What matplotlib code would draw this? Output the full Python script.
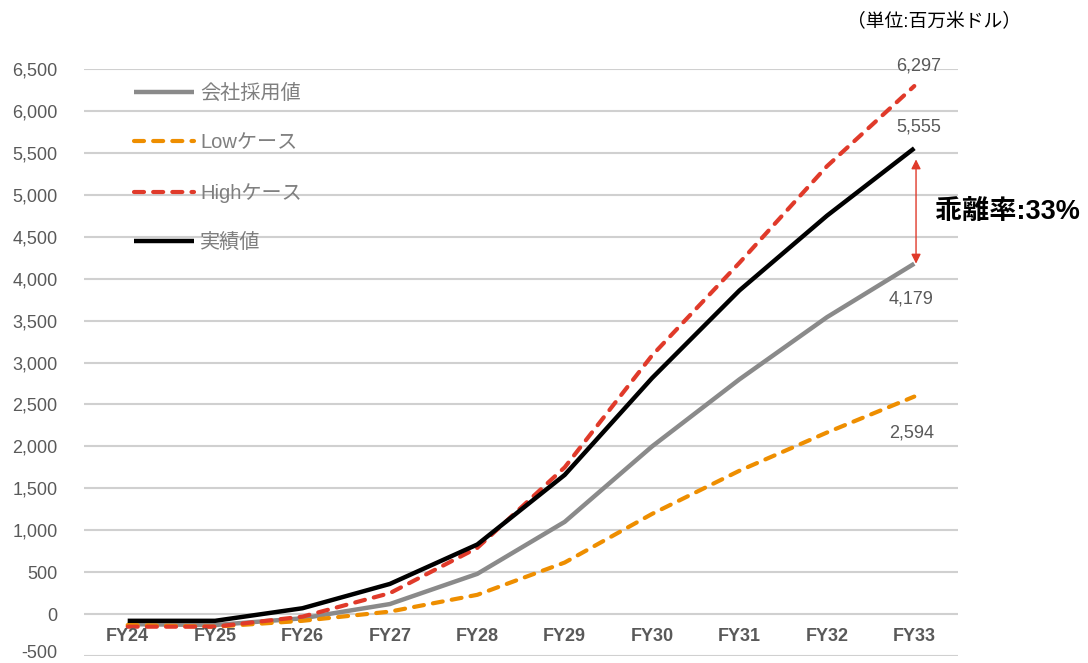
import matplotlib.pyplot as plt
import matplotlib.transforms as mtransforms

plt.rcParams['font.family'] = ['Liberation Sans', 'Noto Sans CJK JP', 'DejaVu Sans']

years = ['FY24', 'FY25', 'FY26', 'FY27', 'FY28', 'FY29', 'FY30', 'FY31', 'FY32', 'FY33']
company = [-120, -130, -50, 120, 480, 1100, 2000, 2800, 3540, 4179]
low = [-130, -150, -80, 30, 230, 615, 1195, 1710, 2165, 2594]
high = [-150, -150, -30, 250, 790, 1750, 3085, 4190, 5340, 6297]
actual = [-80, -80, 70, 360, 830, 1660, 2815, 3860, 4750, 5555]
gap_label = '乖離率:33%'

TXT = '#595959'
x = list(range(len(years)))

fig = plt.figure(figsize=(10.88, 6.63), dpi=100)
ax = fig.add_axes([0.0772, 0.0105, 0.8033, 0.8854])

ax.set_ylim(-500, 6500)
ax.set_xlim(-0.5, len(years) - 0.5)
ax.set_yticks(range(-500, 6501, 500))
ax.set_yticklabels([f'{v:,}' for v in range(-500, 6501, 500)])
ax.grid(axis='y', color='#d0d0d0', lw=1.5)
ax.set_axisbelow(True)
for s in ax.spines.values():
    s.set_visible(False)
ax.tick_params(axis='y', length=0, pad=19, labelsize=13, labelcolor=TXT)
for t in ax.get_yticklabels():
    t.set_verticalalignment('center_baseline')
ax.set_xticks([])

# nudge the bottom tick label up so it stays inside the figure
bottom_lbl = ax.yaxis.get_major_ticks()[0].label1
bottom_lbl.set_transform(bottom_lbl.get_transform() +
                         mtransforms.ScaledTranslation(0, 3 / 72, fig.dpi_scale_trans))

# category labels sit just under the zero line
for i, yr in enumerate(years):
    ax.text(i, -270, yr, ha='center', va='center', fontsize=13,
            fontweight='bold', color=TXT)

ax.plot(x, company, color='#8a8a8a', lw=3.2, label='会社採用値', solid_capstyle='butt')
ax.plot(x, low, color='#EE8E00', lw=3, ls=(0, (2.4, 2.2)), dash_capstyle='round',
        label='Lowケース')
ax.plot(x, high, color='#E03A2A', lw=3, ls=(0, (2.4, 2.2)), dash_capstyle='round',
        label='Highケース')
ax.plot(x, actual, color='black', lw=3.2, label='実績値', solid_capstyle='butt')

leg = ax.legend(loc='upper left', bbox_to_anchor=(0.036, 1.005), frameon=False,
                fontsize=14.5, labelcolor='#7f7f7f', handlelength=3.0,
                handletextpad=0.3, labelspacing=1.5)

# end-of-line values
last = len(years) - 1
ax.annotate(f'{high[-1]:,}', (last, high[-1]), xytext=(3, 8), textcoords='offset points',
            ha='center', va='bottom', fontsize=13, color=TXT)
ax.annotate(f'{actual[-1]:,}', (last, actual[-1]), xytext=(3, 9), textcoords='offset points',
            ha='center', va='bottom', fontsize=13, color=TXT)
ax.annotate(f'{company[-1]:,}', (last, company[-1]), xytext=(-2, -19), textcoords='offset points',
            ha='center', va='top', fontsize=13, color=TXT)
ax.annotate(f'{low[-1]:,}', (last, low[-1]), xytext=(-2, -20), textcoords='offset points',
            ha='center', va='top', fontsize=13, color=TXT)

# gap arrow between actual and company value
ax.annotate('', xy=(last + 0.02, company[-1]), xytext=(last + 0.02, actual[-1]),
            arrowprops=dict(arrowstyle='<|-|>', color='#E03A2A', lw=1,
                            mutation_scale=14, shrinkA=8, shrinkB=0))
fig.text(0.859, 0.68, gap_label, ha='left', va='center', fontsize=19.5,
         fontweight='bold', color='black')

fig.text(0.938, 0.966, '（単位:百万米ドル）', ha='right', va='center', fontsize=13.5,
         color='black')

fig.savefig('out.png', dpi=100)
